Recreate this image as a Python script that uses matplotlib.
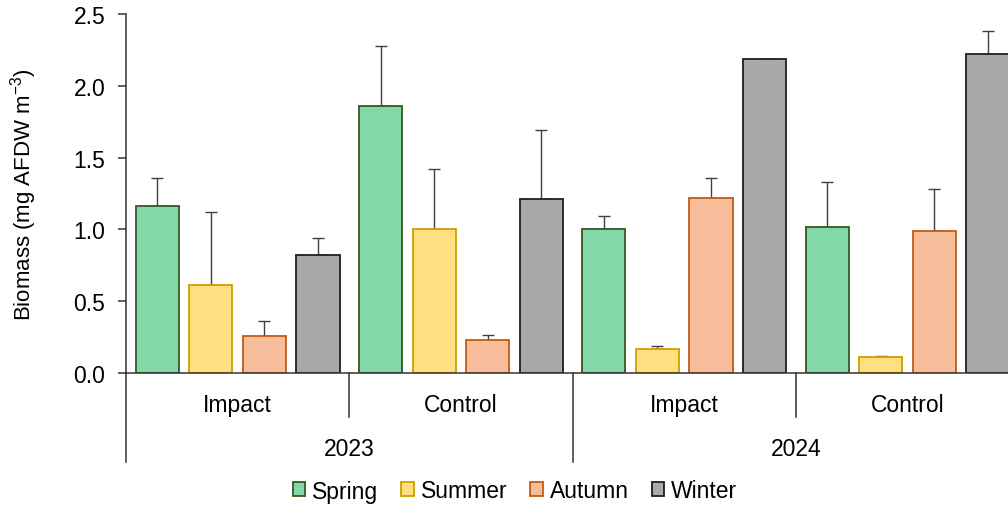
import matplotlib
matplotlib.use("Agg")
import matplotlib.pyplot as plt
import matplotlib.transforms as mtransforms
from matplotlib.patches import Patch
import numpy as np

plt.rcParams['font.family'] = ['Liberation Sans', 'DejaVu Sans']

# Data
years = ["2023", "2024"]
sites = ["Impact", "Control", "Impact", "Control"]
seasons = ["Spring", "Summer", "Autumn", "Winter"]

# mean biomass per site/year group, one list per season
spring = [1.16, 1.86, 1.00, 1.02]
summer = [0.61, 1.00, 0.17, 0.11]
autumn = [0.26, 0.23, 1.22, 0.99]
winter = [0.82, 1.21, 2.19, 2.22]

# upper standard-error lengths
spring_err = [0.20, 0.42, 0.09, 0.31]
summer_err = [0.51, 0.42, 0.015, 0.006]
autumn_err = [0.10, 0.035, 0.14, 0.29]
winter_err = [0.12, 0.48, 0.0, 0.16]

yticks = [0.0, 0.5, 1.0, 1.5, 2.0, 2.5]

fills = ["#82D8A6", "#FFDF80", "#F5BD9A", "#A9A9A9"]
edges = ["#385723", "#C9A000", "#C55A11", "#1F1F1F"]

W, H = 1008, 506
fig = plt.figure(figsize=(W / 100, H / 100), dpi=100)
left, bottom = 126 / W, 1 - 374 / H
ax = fig.add_axes([left, bottom, 4 * 223.3 / W, (374 - 15) / H])

n_groups = len(sites)
centers = np.arange(n_groups) + 0.5
offsets = [-0.36, -0.12, 0.12, 0.36]
bar_w = 0.193

values = [spring, summer, autumn, winter]
errors = [spring_err, summer_err, autumn_err, winter_err]
for k in range(4):
    xs = centers + offsets[k]
    ax.bar(xs, values[k], width=bar_w, color=fills[k], edgecolor=edges[k],
           linewidth=1.3, zorder=2)
    err = np.array(errors[k])
    ax.errorbar(xs, values[k], yerr=[np.zeros_like(err), err], fmt='none',
                ecolor="#404040", elinewidth=1.0, capsize=4.5, capthick=1.0,
                zorder=1)

ax.set_xlim(0, n_groups)
ax.set_ylim(0, 2.5)
ax.set_yticks(yticks)
ax.set_yticklabels([f"{t:.1f}" for t in yticks], fontsize=16.5, color="#000000")
ax.tick_params(axis='y', direction='out', length=6, width=1.1, color="#333333", pad=9)
ax.set_xticks([])
for s in ["top", "right"]:
    ax.spines[s].set_visible(False)
for s in ["left", "bottom"]:
    ax.spines[s].set_color("#333333")
    ax.spines[s].set_linewidth(1.1)

ax.set_ylabel("Biomass (mg AFDW m$^{\\mathregular{-3}}$)", fontsize=16, labelpad=25)

# Two-level category axis
trans = mtransforms.blended_transform_factory(ax.transData, ax.transAxes)
axis_h = (374 - 15)
long_y = -(463 - 374) / axis_h
short_y = -(418 - 374) / axis_h
for xb in [0, 2, 4]:
    ax.plot([xb, xb], [0, long_y], transform=trans, color="#333333",
            linewidth=1.1, clip_on=False)
for xb in [1, 3]:
    ax.plot([xb, xb], [0, short_y], transform=trans, color="#333333",
            linewidth=1.1, clip_on=False)
site_y = -(406 - 374) / axis_h
for c, name in zip(centers, sites):
    ax.text(c, site_y, name, transform=trans, ha='center', va='center', fontsize=16.5)
year_y = -(450 - 374) / axis_h
for i, yr in enumerate(years):
    ax.text(2 * i + 1, year_y, yr, transform=trans, ha='center', va='center', fontsize=16.5)

handles = [Patch(facecolor=fills[k], edgecolor=edges[k], linewidth=1.3, label=seasons[k])
           for k in range(4)]
fig.legend(handles=handles, loc='center', bbox_to_anchor=(515 / W, 1 - 492 / H),
           ncol=4, frameon=False, fontsize=16.5, handlelength=0.55, handleheight=0.55,
           handletextpad=0.3, columnspacing=1.0)

fig.savefig("out.png", dpi=100)
